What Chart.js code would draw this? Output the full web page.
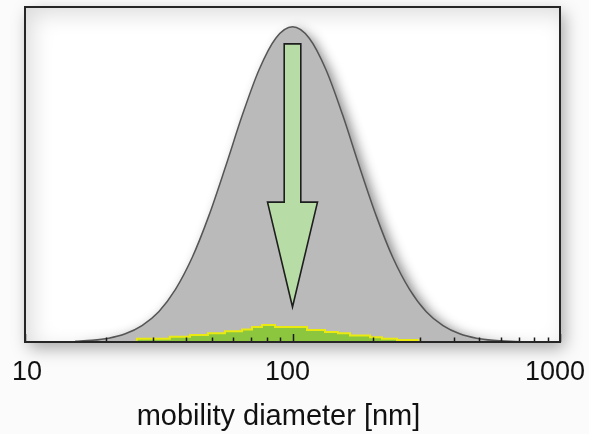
<!DOCTYPE html>
<html>
<head>
<meta charset="utf-8">
<script src="https://cdn.jsdelivr.net/npm/chart.js@4/dist/chart.umd.min.js"></script>
<style>
  html, body { margin: 0; padding: 0; background: #ffffff; }
  #wrap { width: 589px; height: 434px; }
</style>
</head>
<body>
<div id="wrap"><canvas id="c" width="589" height="434"></canvas></div>
<script>
// ---- data ----
const DIAM_GRAY = [15.4, 17.78, 20.54, 23.71, 27.38, 31.62, 36.52, 42.17, 48.70, 56.23, 64.94, 74.99, 86.60, 100, 115.5, 133.4, 154.0, 177.8, 205.4, 237.1, 273.8, 316.2, 365.2, 421.7, 487.0, 562.3, 649.4, 749.9];
const VAL_GRAY  = [0.21, 0.52, 1.2, 2.6, 5.2, 9.6, 16.7, 26.8, 40.1, 55.7, 72.0, 86.4, 96.4, 100, 96.4, 86.4, 72.0, 55.7, 40.1, 26.8, 16.7, 9.6, 5.2, 2.6, 1.2, 0.52, 0.21, 0.08];

const DIAM_GREEN = [26.2, 34.8, 41.4, 48.3, 55.9, 64.8, 70.6, 76.9, 86.0, 113.3, 132.3, 147.9, 164.0, 194.9, 216.1, 245.9, 294.5, 381.3];
const VAL_GREEN  = [0.4, 1.05, 1.7, 2.2, 2.75, 3.4, 4.0, 4.75, 5.4, 4.75, 3.8, 3.2, 2.75, 2.1, 1.5, 1.05, 0.65, 0];

const MAJOR_TICKS = [10, 100, 1000];
const MINOR_TICKS = [20, 30, 40, 50, 60, 70, 80, 90, 200, 300, 400, 500, 600, 700, 800, 900];
const X_TITLE = 'mobility diameter [nm]';

// arrow annotation in data units (diameter, relative value)
const ARROW_X = 100;
const ARROW_TOP = 94.6, ARROW_NECK = 44.4, ARROW_TIP = 11.1;

const decor = {
  id: 'decor',
  beforeDraw(chart) {
    const {ctx, chartArea: a, width, height} = chart;
    ctx.save();
    ctx.fillStyle = '#fbfbfb';
    ctx.fillRect(0, 0, width, height);
    // outer drop shadow
    ctx.shadowColor = 'rgba(0,0,0,0.35)';
    ctx.shadowBlur = 16;
    ctx.shadowOffsetX = 4;
    ctx.shadowOffsetY = 6;
    ctx.fillStyle = '#ffffff';
    ctx.fillRect(a.left, a.top, a.right - a.left, a.bottom - a.top);
    ctx.restore();
    // inner shadow
    ctx.save();
    ctx.beginPath();
    ctx.rect(a.left, a.top, a.right - a.left, a.bottom - a.top);
    ctx.clip();
    ctx.beginPath();
    ctx.rect(-200, -200, width + 400, height + 400);
    ctx.rect(a.left, a.top, a.right - a.left, a.bottom - a.top);
    ctx.shadowColor = 'rgba(0,0,0,0.14)';
    ctx.shadowBlur = 22;
    ctx.shadowOffsetX = 7;
    ctx.shadowOffsetY = 7;
    ctx.fillStyle = '#000';
    ctx.fill('evenodd');
    ctx.restore();
  },
  beforeDatasetsDraw(chart) {
    // soft shadow under the gray distribution
    const {ctx, chartArea: a} = chart;
    const meta = chart.getDatasetMeta(1);
    const pts = meta.data;
    ctx.save();
    ctx.beginPath();
    ctx.rect(a.left, a.top, a.right - a.left, a.bottom - a.top);
    ctx.clip();
    ctx.beginPath();
    ctx.moveTo(pts[0].x, a.bottom);
    for (const p of pts) ctx.lineTo(p.x, p.y);
    ctx.lineTo(pts[pts.length - 1].x, a.bottom);
    ctx.closePath();
    ctx.shadowColor = 'rgba(0,0,0,0.45)';
    ctx.shadowBlur = 12;
    ctx.shadowOffsetX = 5;
    ctx.shadowOffsetY = 2;
    ctx.fillStyle = '#bababa';
    ctx.fill();
    ctx.restore();
  },
  afterDatasetsDraw(chart) {
    const {ctx, chartArea: a, scales} = chart;
    const xs = scales.x, ys = scales.y;
    // arrow
    const cx = xs.getPixelForValue(ARROW_X);
    const yTop = ys.getPixelForValue(ARROW_TOP);
    const yNeck = ys.getPixelForValue(ARROW_NECK);
    const yTip = ys.getPixelForValue(ARROW_TIP);
    const sh = 8.3, hh = 25;
    ctx.save();
    ctx.beginPath();
    ctx.moveTo(cx - sh, yTop);
    ctx.lineTo(cx + sh, yTop);
    ctx.lineTo(cx + sh, yNeck);
    ctx.lineTo(cx + hh, yNeck);
    ctx.lineTo(cx, yTip);
    ctx.lineTo(cx - hh, yNeck);
    ctx.lineTo(cx - sh, yNeck);
    ctx.closePath();
    ctx.fillStyle = '#b8dca6';
    ctx.fill();
    ctx.lineWidth = 1.6;
    ctx.strokeStyle = '#1e1e1e';
    ctx.lineJoin = 'miter';
    ctx.stroke();
    ctx.restore();

    // ticks inside plot
    ctx.save();
    ctx.strokeStyle = '#1a1a1a';
    ctx.lineWidth = 1.5;
    ctx.beginPath();
    for (const v of MINOR_TICKS) {
      const x = Math.round(xs.getPixelForValue(v)) + 0.5;
      ctx.moveTo(x, a.bottom);
      ctx.lineTo(x, a.bottom - 4.5);
    }
    for (const v of MAJOR_TICKS) {
      const x = Math.round(xs.getPixelForValue(v)) + 0.5;
      ctx.moveTo(x, a.bottom);
      ctx.lineTo(x, a.bottom - 8);
    }
    ctx.stroke();
    // border
    ctx.lineWidth = 2;
    ctx.strokeStyle = '#262626';
    ctx.strokeRect(a.left, a.top, a.right - a.left, a.bottom - a.top);
    ctx.restore();

    // tick labels & title
    ctx.save();
    ctx.fillStyle = '#111111';
    ctx.font = '27px "Liberation Sans", Arial, sans-serif';
    ctx.textBaseline = 'alphabetic';
    ctx.textAlign = 'center';
    for (const v of MAJOR_TICKS) {
      const label = String(v);
      const w = ctx.measureText(label).width;
      let x = xs.getPixelForValue(v) - 5;
      x = Math.max(x, 12 + w / 2);
      x = Math.min(x, chart.width - 4 - w / 2);
      ctx.fillText(label, x, a.bottom + 38);
    }
    ctx.font = '29px "Liberation Sans", Arial, sans-serif';
    ctx.fillText(X_TITLE, (a.left + a.right) / 2 - 14, a.bottom + 83);
    ctx.restore();
  }
};

new Chart(document.getElementById('c'), {
  type: 'line',
  data: {
    datasets: [
      {
        label: 'after',
        data: DIAM_GREEN.map((d, i) => ({x: d, y: VAL_GREEN[i]})),
        stepped: 'after',
        borderColor: '#eaea10',
        borderWidth: 2,
        backgroundColor: '#8cc63f',
        fill: 'origin',
        pointRadius: 0,
        order: 0
      },
      {
        label: 'before',
        data: DIAM_GRAY.map((d, i) => ({x: d, y: VAL_GRAY[i]})),
        cubicInterpolationMode: 'monotone',
        borderColor: '#555555',
        borderWidth: 1.5,
        backgroundColor: '#bababa',
        fill: 'origin',
        pointRadius: 0,
        order: 1
      }
    ]
  },
  options: {
    responsive: false,
    animation: false,
    devicePixelRatio: 1,
    layout: { padding: { left: 25, right: 29, top: 7, bottom: 92 } },
    scales: {
      x: { type: 'logarithmic', min: 10, max: 1000, display: false },
      y: { type: 'linear', min: 0, max: 106.3, display: false }
    },
    plugins: {
      legend: { display: false },
      tooltip: { enabled: false }
    }
  },
  plugins: [decor]
});
</script>
</body>
</html>
